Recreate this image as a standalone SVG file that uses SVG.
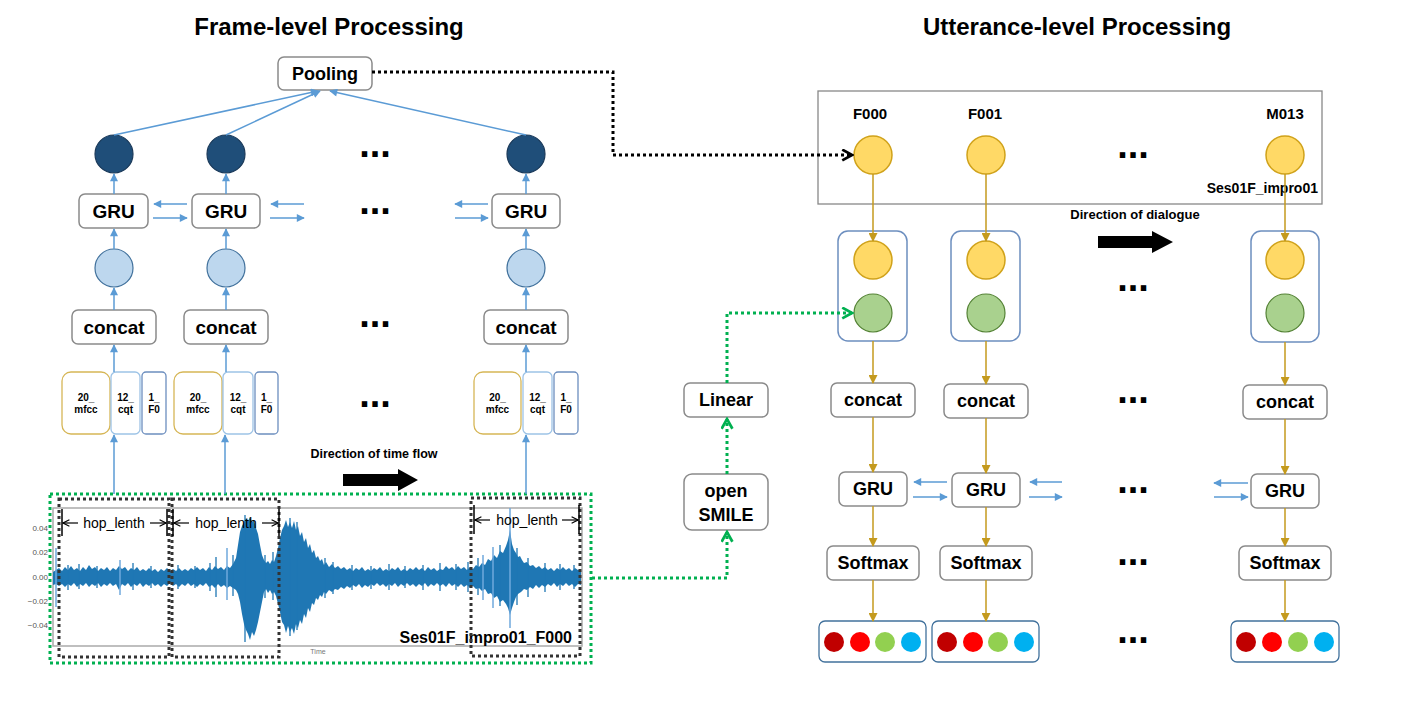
<svg xmlns="http://www.w3.org/2000/svg" width="1408" height="701" viewBox="0 0 1408 701">
<style>
.t{font-family:"Liberation Sans",Arial,sans-serif;font-weight:bold;text-anchor:middle;fill:#000}
.c{dominant-baseline:central}
.box{fill:#fff;stroke:#8a8a8a;stroke-width:1.5}
.grp{fill:none;stroke:#6c8ebf;stroke-width:1.5}
.blue{stroke:#5B9BD5;stroke-width:1.5;fill:none;marker-end:url(#ab)}
.gold{stroke:#C49A1E;stroke-width:1.5;fill:none;marker-end:url(#ag)}
.dk{fill:#1F4E79;stroke:#1b3a5a;stroke-width:1.2}
.lt{fill:#BDD7EE;stroke:#41719C;stroke-width:1.2}
.yl{fill:#FFD966;stroke:#D0A21A;stroke-width:1.5}
.gr{fill:#A9D18E;stroke:#548235;stroke-width:1.2}
.dots{font-family:"Liberation Sans",Arial,sans-serif;font-weight:bold;font-size:38px;text-anchor:middle;fill:#000}
.blk{stroke:#000;stroke-width:3;stroke-dasharray:3 3;fill:none;marker-end:url(#ak)}
.grn{stroke:#00B050;stroke-width:3;stroke-dasharray:3 3;fill:none;marker-end:url(#agr)}
.win{stroke:#333;stroke-width:3;stroke-dasharray:3 3;fill:none}
.hop{stroke:#000;stroke-width:1.2;fill:none;marker-end:url(#ah)}
.tick{stroke:#000;stroke-width:1.5}
.ax{font-family:"Liberation Sans",Arial,sans-serif;font-size:8px;fill:#555;text-anchor:end}
</style>
<defs>
<marker id="ab" viewBox="0 0 10 10" refX="9" refY="5" markerWidth="9" markerHeight="8" markerUnits="userSpaceOnUse" orient="auto"><path d="M0,0 L10,5 L0,10 z" fill="#5B9BD5"/></marker>
<marker id="ag" viewBox="0 0 10 10" refX="9" refY="5" markerWidth="10" markerHeight="9" markerUnits="userSpaceOnUse" orient="auto"><path d="M0,0 L10,5 L0,10 z" fill="#C49A1E"/></marker>
<marker id="ak" viewBox="0 0 12 12" refX="10" refY="6" markerWidth="13" markerHeight="13" markerUnits="userSpaceOnUse" orient="auto"><path d="M1,1 L10,6 L1,11" fill="none" stroke="#000" stroke-width="2.5"/></marker>
<marker id="agr" viewBox="0 0 12 12" refX="10" refY="6" markerWidth="13" markerHeight="13" markerUnits="userSpaceOnUse" orient="auto"><path d="M1,1 L10,6 L1,11" fill="none" stroke="#00B050" stroke-width="2.5"/></marker>
<marker id="ah" viewBox="0 0 10 10" refX="9" refY="5" markerWidth="8" markerHeight="8" markerUnits="userSpaceOnUse" orient="auto"><path d="M1,1 L9,5 L1,9" fill="none" stroke="#000" stroke-width="1.4"/></marker>
</defs>
<rect width="1408" height="701" fill="#fff"/>

<text class="t" x="329" y="35" font-size="24">Frame-level Processing</text>
<text class="t" x="1077" y="35" font-size="24">Utterance-level Processing</text>

<!-- waveform plot -->
<g id="waveform">
<rect x="53" y="508" width="529" height="138" fill="none" stroke="#aaa" stroke-width="1.5"/>
<text class="ax" x="48" y="531">0.04</text>
<text class="ax" x="48" y="555">0.02</text>
<text class="ax" x="48" y="580">0.00</text>
<text class="ax" x="48" y="604">−0.02</text>
<text class="ax" x="48" y="628">−0.04</text>
<text x="318" y="654" font-family="Liberation Sans,Arial,sans-serif" font-size="7" fill="#777" text-anchor="middle">Time</text>
<path fill="#1f77b4" d="M53,572 L56,570 59,568 62,571 65,567 68,570 71,566 74,570 77,568 80,571 83,567 86,570 89,565 92,569 95,567 98,571 101,568 104,570 107,567 110,571 113,568 116,570 119,566 122,569 125,567 128,571 131,568 134,570 137,567 140,571 143,569 146,571 149,568 152,571 155,569 158,572 161,569 164,571 167,568 170,571 173,569 176,571 179,568 182,571 185,569 188,571 191,568 194,570 197,567 200,570 203,568 206,571 209,567 212,570 215,566 218,569 221,567 224,570 227,566 230,568 233,564 236,558 238,545 240,532 242,526 244,522 246,518 248,521 250,517 252,522 254,520 256,528 258,534 260,545 262,555 264,560 266,563 268,561 270,564 272,560 274,562 276,556 278,548 280,538 282,530 284,526 286,520 288,527 290,522 292,528 294,521 296,530 298,526 300,536 302,532 304,542 306,538 308,548 310,544 312,553 314,550 316,558 318,556 320,561 322,559 324,565 326,562 329,567 332,564 335,568 338,566 341,569 344,567 347,570 350,568 353,571 356,568 359,570 362,567 365,571 368,569 371,571 374,568 377,570 380,567 383,571 386,569 389,571 392,568 395,570 398,567 401,571 404,569 407,571 410,568 413,570 416,567 419,570 422,568 425,571 428,567 431,570 434,568 437,571 440,569 443,570 446,566 449,569 452,567 455,570 458,566 461,569 464,567 467,570 470,567 473,569 476,565 479,567 482,563 485,565 488,559 491,561 494,555 497,558 500,551 503,553 506,546 508,540 510,530 512,544 514,550 516,553 518,557 520,556 522,560 524,563 527,562 530,566 533,565 536,568 539,566 542,569 545,567 548,570 551,568 554,571 557,568 560,570 563,567 566,570 569,568 572,571 575,568 578,570 581,569 L581,585 578,584 575,587 572,584 569,586 566,583 563,586 560,584 557,587 554,583 551,586 548,584 545,587 542,585 539,588 536,585 533,589 530,587 527,590 524,589 521,592 518,594 516,597 514,602 512,608 510,615 508,608 506,604 503,600 500,602 497,596 494,598 491,593 488,594 485,589 482,591 479,588 476,589 473,586 470,588 467,585 464,587 461,584 458,587 455,584 452,586 449,583 446,587 443,584 440,586 437,583 434,586 431,584 428,587 425,583 422,586 419,584 416,587 413,584 410,586 407,583 404,586 401,584 398,587 395,583 392,586 389,584 386,587 383,584 380,586 377,583 374,586 371,584 368,587 365,585 362,588 359,584 356,587 353,585 350,588 347,586 344,589 341,587 338,590 335,589 332,592 329,590 326,594 324,592 322,597 320,595 318,600 316,598 314,605 312,603 310,612 308,608 306,618 304,614 302,624 300,620 298,628 296,624 294,634 292,628 290,632 288,626 286,633 284,625 282,622 280,612 278,604 276,596 274,592 272,594 270,590 268,593 266,589 264,592 262,602 260,612 258,622 256,630 254,636 252,632 250,640 248,634 246,630 244,624 242,614 240,602 238,594 236,590 233,588 230,586 227,588 224,585 221,587 218,584 215,588 212,585 209,587 206,583 203,586 200,584 197,587 194,584 191,586 188,583 185,586 182,584 179,587 176,584 173,586 170,583 167,586 164,584 161,587 158,584 155,586 152,583 149,586 146,584 143,587 140,583 137,586 134,584 131,587 128,583 125,586 122,584 119,590 116,584 113,586 110,583 107,586 104,584 101,587 98,583 95,586 92,584 89,587 86,583 83,586 80,584 77,587 74,583 71,586 68,584 65,587 62,584 59,586 56,584 53,585 Z"/>
<path stroke="#1f77b4" stroke-width="1.3" fill="none" d="M68,565V590 M79,564V589 M97,566V588 M133,563V590 M151,566V588 M178,565V589 M195,566V588 M210,563V591 M216,557V597 M233,555V596 M265,555V598 M273,552V600 M325,558V598 M333,562V594 M352,565V590 M371,566V589 M389,564V590 M405,566V588 M423,565V590 M440,563V591 M456,564V590 M468,562V592 M478,558V595 M500,545V606 M517,548V605 M528,558V597 M545,563V592 M560,564V590 M574,565V589 M245,515V642 M290,518V636 M297,522V630"/>
<g stroke="#6fa8dc" stroke-width="1.5">
<line x1="56" y1="548" x2="56" y2="607"/>
<line x1="227" y1="548" x2="227" y2="600"/>
<line x1="510" y1="508" x2="510" y2="628"/>
<line x1="493" y1="547" x2="493" y2="608"/>
<line x1="483" y1="555" x2="483" y2="600"/>
<line x1="120" y1="560" x2="120" y2="595"/>
</g>
<text class="t" x="572" y="643" font-size="16" style="text-anchor:end">Ses01F_impro01_F000</text>
</g>

<g id="windows">
<rect class="win" x="59" y="499" width="110" height="158"/>
<rect class="win" x="172" y="499" width="107" height="158"/>
<rect class="win" x="471" y="498" width="109" height="158"/>
<rect x="50" y="494" width="541" height="169" fill="none" stroke="#00B050" stroke-width="3" stroke-dasharray="3 3"/>
</g>

<g id="hop-annotations">
<line class="tick" x1="62" y1="509" x2="62" y2="536"/>
<line class="tick" x1="167" y1="509" x2="167" y2="536"/>
<line class="hop" x1="78" y1="523" x2="63" y2="523"/>
<line class="hop" x1="150" y1="523" x2="166" y2="523"/>
<text x="114" y="528" font-family="Liberation Sans,Arial,sans-serif" font-size="14" text-anchor="middle">hop_lenth</text>
<line class="tick" x1="173" y1="509" x2="173" y2="536"/>
<line class="tick" x1="279" y1="509" x2="279" y2="536"/>
<line class="hop" x1="189" y1="523" x2="174" y2="523"/>
<line class="hop" x1="262" y1="523" x2="278" y2="523"/>
<text x="226" y="528" font-family="Liberation Sans,Arial,sans-serif" font-size="14" text-anchor="middle">hop_lenth</text>
<line class="tick" x1="474" y1="505" x2="474" y2="534"/>
<line class="tick" x1="579" y1="505" x2="579" y2="534"/>
<line class="hop" x1="490" y1="520" x2="475" y2="520"/>
<line class="hop" x1="562" y1="520" x2="578" y2="520"/>
<text x="527" y="525" font-family="Liberation Sans,Arial,sans-serif" font-size="14" text-anchor="middle">hop_lenth</text>
</g>

<!-- left frame-level nodes -->
<g id="pooling"><rect class="box" x="278" y="57" width="94" height="33" rx="6"/><text class="t c" x="325" y="73.5" font-size="18">Pooling</text></g>

<g id="frame1">
<circle class="dk" cx="114" cy="154" r="19"/>
<rect class="box" x="79" y="194" width="69" height="34" rx="6"/><text class="t c" x="113.5" y="211" font-size="19">GRU</text>
<circle class="lt" cx="114" cy="268" r="19"/>
<rect class="box" x="72" y="310" width="84" height="34" rx="6"/><text class="t c" x="114" y="327" font-size="19">concat</text>
<rect x="62" y="372" width="48" height="62" rx="9" fill="#fff" stroke="#D6B656" stroke-width="1.3"/>
<rect x="111" y="372" width="29" height="62" rx="5" fill="#fff" stroke="#9DC3E6" stroke-width="1.3"/>
<rect x="142" y="372" width="24" height="62" rx="4" fill="#fff" stroke="#6C8EBF" stroke-width="1.3"/>
<text class="t" font-size="10"><tspan x="86" y="400.5">20_</tspan><tspan x="86" y="412.5">mfcc</tspan></text>
<text class="t" font-size="10"><tspan x="125.5" y="400.5">12_</tspan><tspan x="125.5" y="412.5">cqt</tspan></text>
<text class="t" font-size="10"><tspan x="154" y="400.5">1_</tspan><tspan x="154" y="412.5">F0</tspan></text>
</g>
<g id="frame2">
<circle class="dk" cx="226" cy="154" r="19"/>
<rect class="box" x="192" y="194" width="68" height="34" rx="6"/><text class="t c" x="226" y="211" font-size="19">GRU</text>
<circle class="lt" cx="226" cy="268" r="19"/>
<rect class="box" x="184" y="310" width="84" height="34" rx="6"/><text class="t c" x="226" y="327" font-size="19">concat</text>
<rect x="174" y="372" width="48" height="62" rx="9" fill="#fff" stroke="#D6B656" stroke-width="1.3"/>
<rect x="223" y="372" width="30" height="62" rx="5" fill="#fff" stroke="#9DC3E6" stroke-width="1.3"/>
<rect x="255" y="372" width="23" height="62" rx="4" fill="#fff" stroke="#6C8EBF" stroke-width="1.3"/>
<text class="t" font-size="10"><tspan x="198" y="400.5">20_</tspan><tspan x="198" y="412.5">mfcc</tspan></text>
<text class="t" font-size="10"><tspan x="238" y="400.5">12_</tspan><tspan x="238" y="412.5">cqt</tspan></text>
<text class="t" font-size="10"><tspan x="266.5" y="400.5">1_</tspan><tspan x="266.5" y="412.5">F0</tspan></text>
</g>
<g id="frame3">
<circle class="dk" cx="526" cy="154" r="19"/>
<rect class="box" x="492" y="194" width="68" height="34" rx="6"/><text class="t c" x="526" y="211" font-size="19">GRU</text>
<circle class="lt" cx="526" cy="268" r="19"/>
<rect class="box" x="484" y="310" width="84" height="34" rx="6"/><text class="t c" x="526" y="327" font-size="19">concat</text>
<rect x="474" y="372" width="47" height="62" rx="9" fill="#fff" stroke="#D6B656" stroke-width="1.3"/>
<rect x="523" y="372" width="29" height="62" rx="5" fill="#fff" stroke="#9DC3E6" stroke-width="1.3"/>
<rect x="554" y="372" width="24" height="62" rx="4" fill="#fff" stroke="#6C8EBF" stroke-width="1.3"/>
<text class="t" font-size="10"><tspan x="497.5" y="400.5">20_</tspan><tspan x="497.5" y="412.5">mfcc</tspan></text>
<text class="t" font-size="10"><tspan x="537.5" y="400.5">12_</tspan><tspan x="537.5" y="412.5">cqt</tspan></text>
<text class="t" font-size="10"><tspan x="566" y="400.5">1_</tspan><tspan x="566" y="412.5">F0</tspan></text>
</g>

<g id="left-ellipses">
<text class="dots" x="375" y="157">...</text>
<text class="dots" x="375" y="214">...</text>
<text class="dots" x="375" y="327">...</text>
<text class="dots" x="375" y="407">...</text>
</g>

<g id="time-flow">
<text class="t" x="374" y="458" font-size="12.5">Direction of time flow</text>
<path d="M343,474 H398 V469 L418,480 L398,491 V486 H343 Z" fill="#000"/>
</g>

<!-- middle -->
<g id="linear"><rect class="box" x="684" y="383" width="84" height="34" rx="6"/><text class="t c" x="726" y="400" font-size="18">Linear</text></g>
<g id="opensmile"><rect class="box" x="684" y="474" width="84" height="56" rx="8"/><text class="t" font-size="18"><tspan x="726" y="497">open</tspan><tspan x="726" y="521">SMILE</tspan></text></g>

<!-- right utterance-level -->
<g id="utterance-box">
<rect x="818" y="91" width="504" height="113" fill="none" stroke="#888" stroke-width="1.3"/>
<text class="t" x="870" y="119" font-size="15">F000</text>
<text class="t" x="985" y="119" font-size="15">F001</text>
<text class="t" x="1285" y="119" font-size="15">M013</text>
<text class="t" x="1318" y="193" font-size="14" style="text-anchor:end">Ses01F_impro01</text>
<circle class="yl" cx="873" cy="155" r="19"/>
<circle class="yl" cx="986" cy="155" r="19"/>
<circle class="yl" cx="1285" cy="155" r="19"/>
<text class="dots" x="1133" y="158">...</text>
</g>

<g id="dialogue-dir">
<text class="t" x="1135" y="219" font-size="13">Direction of dialogue</text>
<path d="M1098,236 H1152 V231 L1173,242 L1152,253 V248 H1098 Z" fill="#000"/>
</g>

<g id="utt1">
<rect class="grp" x="838" y="231" width="69" height="110" rx="10"/>
<circle class="yl" cx="873" cy="260" r="19"/>
<circle class="gr" cx="873" cy="313" r="19"/>
<rect class="box" x="831" y="383" width="84" height="34" rx="6"/><text class="t c" x="873" y="400" font-size="18">concat</text>
<rect class="box" x="839" y="472" width="68" height="34" rx="6"/><text class="t c" x="873" y="489" font-size="18">GRU</text>
<rect class="box" x="827" y="546" width="92" height="34" rx="6"/><text class="t c" x="873" y="563" font-size="18">Softmax</text>
<rect x="819" y="621" width="107" height="41" rx="6" fill="#fff" stroke="#41719C" stroke-width="1.3"/>
<circle cx="834" cy="642" r="10" fill="#C00000"/><circle cx="860" cy="642" r="10" fill="#FF0000"/><circle cx="885" cy="642" r="10" fill="#92D050"/><circle cx="911" cy="642" r="10" fill="#00B0F0"/>
</g>
<g id="utt2">
<rect class="grp" x="951" y="231" width="69" height="110" rx="10"/>
<circle class="yl" cx="986" cy="260" r="19"/>
<circle class="gr" cx="986" cy="313" r="19"/>
<rect class="box" x="944" y="384" width="84" height="34" rx="6"/><text class="t c" x="986" y="401" font-size="18">concat</text>
<rect class="box" x="952" y="473" width="68" height="34" rx="6"/><text class="t c" x="986" y="490" font-size="18">GRU</text>
<rect class="box" x="940" y="546" width="92" height="34" rx="6"/><text class="t c" x="986" y="563" font-size="18">Softmax</text>
<rect x="932" y="621" width="107" height="41" rx="6" fill="#fff" stroke="#41719C" stroke-width="1.3"/>
<circle cx="947" cy="642" r="10" fill="#C00000"/><circle cx="973" cy="642" r="10" fill="#FF0000"/><circle cx="998" cy="642" r="10" fill="#92D050"/><circle cx="1024" cy="642" r="10" fill="#00B0F0"/>
</g>
<g id="utt3">
<rect class="grp" x="1251" y="231" width="68" height="111" rx="10"/>
<circle class="yl" cx="1285" cy="260" r="19"/>
<circle class="gr" cx="1285" cy="313" r="19"/>
<rect class="box" x="1243" y="385" width="84" height="34" rx="6"/><text class="t c" x="1285" y="402" font-size="18">concat</text>
<rect class="box" x="1251" y="474" width="68" height="34" rx="6"/><text class="t c" x="1285" y="491" font-size="18">GRU</text>
<rect class="box" x="1239" y="546" width="92" height="34" rx="6"/><text class="t c" x="1285" y="563" font-size="18">Softmax</text>
<rect x="1231" y="621" width="108" height="41" rx="6" fill="#fff" stroke="#41719C" stroke-width="1.3"/>
<circle cx="1246" cy="642" r="10" fill="#C00000"/><circle cx="1272" cy="642" r="10" fill="#FF0000"/><circle cx="1298" cy="642" r="10" fill="#92D050"/><circle cx="1324" cy="642" r="10" fill="#00B0F0"/>
</g>

<g id="right-ellipses">
<text class="dots" x="1133" y="291">...</text>
<text class="dots" x="1133" y="403">...</text>
<text class="dots" x="1133" y="493">...</text>
<text class="dots" x="1133" y="565">...</text>
<text class="dots" x="1133" y="643">...</text>
</g>

<!-- connectors -->
<g id="connectors">
<line class="blue" x1="114" y1="135" x2="318" y2="91"/>
<line class="blue" x1="226" y1="135" x2="320" y2="91"/>
<line class="blue" x1="526" y1="135" x2="330" y2="91"/>
<line class="blue" x1="114" y1="194" x2="114" y2="174"/>
<line class="blue" x1="226" y1="194" x2="226" y2="174"/>
<line class="blue" x1="526" y1="194" x2="526" y2="174"/>
<line class="blue" x1="114" y1="249" x2="114" y2="229"/>
<line class="blue" x1="226" y1="249" x2="226" y2="229"/>
<line class="blue" x1="526" y1="249" x2="526" y2="229"/>
<line class="blue" x1="114" y1="310" x2="114" y2="288"/>
<line class="blue" x1="226" y1="310" x2="226" y2="288"/>
<line class="blue" x1="526" y1="310" x2="526" y2="288"/>
<line class="blue" x1="114" y1="372" x2="114" y2="345"/>
<line class="blue" x1="226" y1="372" x2="226" y2="345"/>
<line class="blue" x1="526" y1="372" x2="526" y2="345"/>
<line class="blue" x1="114" y1="494" x2="114" y2="435"/>
<line class="blue" x1="225" y1="494" x2="225" y2="435"/>
<line class="blue" x1="526" y1="494" x2="526" y2="435"/>
<line class="blue" x1="187" y1="204" x2="154" y2="204"/>
<line class="blue" x1="153" y1="218" x2="187" y2="218"/>
<line class="blue" x1="304" y1="204" x2="271" y2="204"/>
<line class="blue" x1="270" y1="218" x2="304" y2="218"/>
<line class="blue" x1="488" y1="204" x2="455" y2="204"/>
<line class="blue" x1="455" y1="218" x2="488" y2="218"/>
<line class="blue" x1="947" y1="482" x2="914" y2="482"/>
<line class="blue" x1="913" y1="497" x2="947" y2="497"/>
<line class="blue" x1="1062" y1="482" x2="1030" y2="482"/>
<line class="blue" x1="1029" y1="497" x2="1062" y2="497"/>
<line class="blue" x1="1248" y1="483" x2="1214" y2="483"/>
<line class="blue" x1="1214" y1="497" x2="1248" y2="497"/>
<line class="gold" x1="873" y1="174" x2="873" y2="241"/>
<line class="gold" x1="986" y1="174" x2="986" y2="241"/>
<line class="gold" x1="1285" y1="174" x2="1285" y2="241"/>
<line class="gold" x1="873" y1="341" x2="873" y2="383"/>
<line class="gold" x1="986" y1="341" x2="986" y2="384"/>
<line class="gold" x1="1285" y1="342" x2="1285" y2="385"/>
<line class="gold" x1="873" y1="417" x2="873" y2="472"/>
<line class="gold" x1="986" y1="418" x2="986" y2="473"/>
<line class="gold" x1="1285" y1="419" x2="1285" y2="474"/>
<line class="gold" x1="873" y1="506" x2="873" y2="546"/>
<line class="gold" x1="986" y1="507" x2="986" y2="546"/>
<line class="gold" x1="1285" y1="508" x2="1285" y2="546"/>
<line class="gold" x1="873" y1="580" x2="873" y2="621"/>
<line class="gold" x1="986" y1="580" x2="986" y2="621"/>
<line class="gold" x1="1285" y1="580" x2="1285" y2="621"/>
<path class="blk" d="M372,72 H613 V155 H852"/>
<path class="grn" d="M592,578 H727 V532"/>
<path class="grn" d="M727,474 V419"/>
<path class="grn" d="M727,383 V313 H852"/>
</g>
</svg>
